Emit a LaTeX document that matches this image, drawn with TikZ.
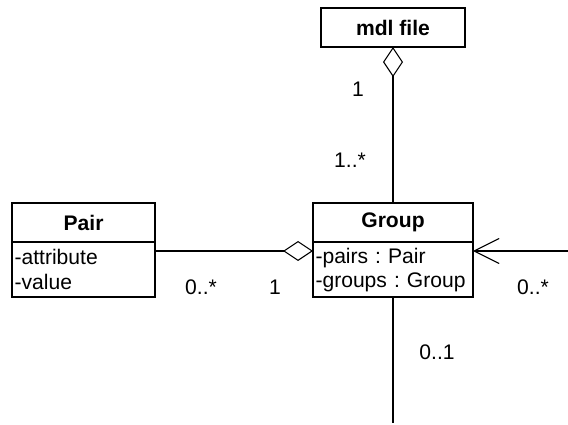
\documentclass[tikz,border=0pt]{standalone}
\usepackage{fontspec}
\setmainfont{Liberation Sans}
\frenchspacing
\usetikzlibrary{arrows.meta,positioning}

\begin{document}
\begin{tikzpicture}[
    x=0.02cm, y=-0.02cm,
    every node/.style={font=\fontsize{12pt}{13.7pt}\selectfont},
    classname/.style={rectangle, draw, line width=1.1pt, outer sep=0pt, minimum height=0.78cm, font=\fontsize{12pt}{13.7pt}\selectfont\bfseries},
    classattrs/.style={rectangle, draw, line width=1.1pt, outer sep=0pt, minimum height=1.1cm, inner xsep=0.05cm, align=left},
    assoc/.style={line width=0.6pt},
    agg/.style={assoc, {Diamond[open, length=0.6cm, width=0.4cm, line width=0.6pt]}-},
    nav/.style={assoc, -{Straight Barb[length=0.5cm, width=0.5cm, line width=0.6pt]}},
    mult/.style={inner sep=0pt}
]
\useasboundingbox (0,0) rectangle (568,425);

% Classes
\node[classname, minimum width=3.2cm] (group) at (393,222.5) {Group};
\node[classattrs, text width=3.1cm, below=0pt of group] (groupattrs) {-pairs : Pair\\-groups : Group};

\node[classname, minimum width=2.86cm, left=3.16cm of group] (pair) {Pair};
\node[classattrs, text width=2.76cm, below=0pt of pair] (pairattrs) {-attribute\\-value};

\node[classname, minimum width=2.88cm, above=3.12cm of group] (mdl) {mdl file};

% Free ends
\coordinate (selfend) at (568,251);
\coordinate (parentend) at (393,423);

% Associations
\draw[agg] (mdl.south) -- (group.north);
\draw[agg] ([yshift=-0.18cm]groupattrs.north west) -- ([yshift=-0.18cm]pairattrs.north east);
\draw[nav] (selfend) -- (selfend -| groupattrs.east);
\draw[assoc] (groupattrs.south) -- (parentend);

% Multiplicities
\node[mult] (m1) at (358,89) {1};
\node[mult] (m2) at (350,160) {1..*};
\node[mult] (m3) at (201,287) {0..*};
\node[mult] (m4) at (275,287) {1};
\node[mult] (m5) at (533,287) {0..*};
\node[mult] (m6) at (437,352) {0..1};

\end{tikzpicture}
\end{document}
